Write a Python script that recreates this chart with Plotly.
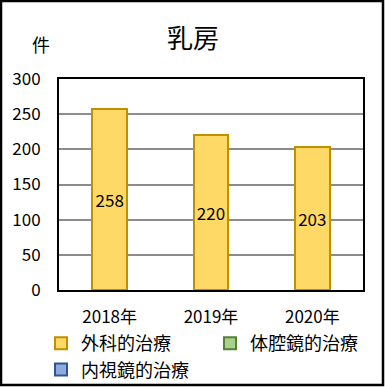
import plotly.graph_objects as go

categories = ["2018年", "2019年", "2020年"]
series_names = ["外科的治療", "体腔鏡的治療", "内視鏡的治療"]
surgical = [258, 220, 203]
laparoscopic = [None, None, None]
endoscopic = [None, None, None]
y_ticks = [0, 50, 100, 150, 200, 250, 300]

FONT = "Noto Sans CJK JP, Liberation Sans, sans-serif"
W, H = 385, 387
ml, mr, mt, mb = 59, 22, 79, 97
pw, ph = W - ml - mr, H - mt - mb

fig = go.Figure()
styles = [("#FFD966", "#BF9000"), ("#A9D18E", "#548235"), ("#8FAADC", "#2F5597")]
for name, vals, (fc, lc) in zip(series_names, [surgical, laparoscopic, endoscopic], styles):
    fig.add_trace(go.Bar(
        x=categories, y=vals, name=name,
        marker=dict(color=fc, line=dict(color=lc, width=2)),
        text=[str(v) if v is not None else "" for v in vals],
        textposition="inside", insidetextanchor="middle",
        textfont=dict(size=17, color="black", family=FONT),
        textangle=0,
        hoverinfo="skip",
    ))

def px_x(p):
    return (p - ml) / pw

def px_y(p):
    return (H - mb - p) / ph

fig.update_layout(
    width=W, height=H,
    margin=dict(l=ml, r=mr, t=mt, b=mb, pad=0, autoexpand=False),
    barmode="stack", bargap=0.655,
    plot_bgcolor="white", paper_bgcolor="white",
    font=dict(family=FONT, color="black", size=17),
    showlegend=True,
    legend=dict(orientation="h", x=px_x(41), y=px_y(325), xanchor="left", yanchor="top",
                entrywidth=124, entrywidthmode="pixels", traceorder="normal",
                font=dict(size=18, family=FONT), itemwidth=30,
                tracegroupgap=0, bgcolor="rgba(0,0,0,0)"),
    xaxis=dict(showline=True, linecolor="black", linewidth=2, mirror=True,
               ticks="", tickfont=dict(size=17), showgrid=False, ticklabelstandoff=11),
    yaxis=dict(range=[0, 300], tickvals=y_ticks, showline=True, linecolor="black",
               linewidth=2, mirror=True, ticks="", showgrid=True, gridcolor="#8C8C8C",
               gridwidth=2, zeroline=False, tickfont=dict(size=17), ticklabelstandoff=13),
    shapes=[dict(type="rect", xref="paper", yref="paper",
                 x0=px_x(1), x1=px_x(W - 2), y0=px_y(H - 2), y1=px_y(1),
                 line=dict(color="black", width=2.5), fillcolor="rgba(0,0,0,0)")],
    annotations=[
        dict(text="乳房", xref="paper", yref="paper", x=px_x(193), y=px_y(36),
             xanchor="center", yanchor="middle", showarrow=False,
             font=dict(size=26, family=FONT, color="black")),
        dict(text="件", xref="paper", yref="paper", x=px_x(41), y=px_y(44),
             xanchor="center", yanchor="middle", showarrow=False,
             font=dict(size=18, family=FONT, color="black")),
    ],
)

fig.write_html("out.html", config={"displayModeBar": False},
               post_script="document.body.style.margin='0';document.body.style.overflow='hidden';")
